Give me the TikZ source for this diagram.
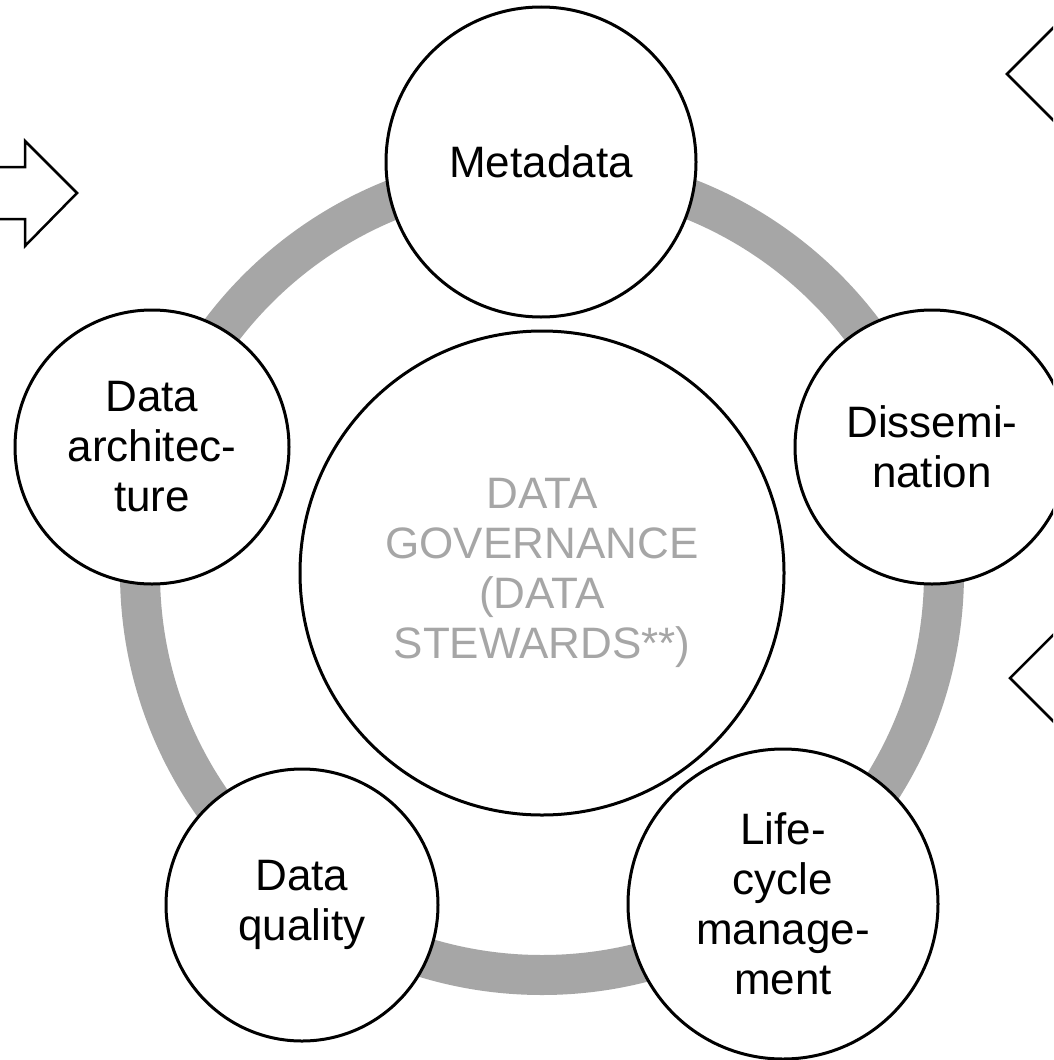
\documentclass[tikz,border=0pt]{standalone}
\usepackage{fontspec}
\setmainfont{Liberation Sans}
\definecolor{ringgray}{HTML}{A6A6A6}
\definecolor{txtgray}{HTML}{A6A6A6}
\begin{document}
\begin{tikzpicture}[x=1pt,y=-1pt,
  bub/.style={circle,draw=black,line width=3pt,fill=white,inner sep=0pt,align=center,
    font=\fontsize{44}{50}\selectfont},
  arr/.style={draw=black,line width=2.5pt,line join=miter}]
\useasboundingbox (0,0) rectangle (1053,1060);
\clip (0,0) rectangle (1053,1060);
\fill[white] (0,0) rectangle (1053,1060);
\coordinate (c) at (542,573);
\draw[ringgray,line width=40pt] (c) circle[radius=402pt];
\node[bub,minimum size=484pt,text=txtgray] (gov) at (c) {DATA\\GOVERNANCE\\(DATA\\STEWARDS**)};
\node[bub,minimum size=310pt] (meta) at (541,162) {Metadata};
\node[bub,minimum size=274pt] (diss) at (932,447) {Dissemi-\\nation};
\node[bub,minimum size=310pt] (life) at (783,904) {Life-\\cycle\\manage-\\ment};
\node[bub,minimum size=272pt] (qual) at (302,905) {Data\\quality};
\node[bub,minimum size=274pt] (arch) at (152,447) {Data\\architec-\\ture};
\draw[arr] (-10,167) -- (25,167) -- (25,141) -- (77,193) -- (25,246) -- (25,219) -- (-10,219);
\draw[arr] (1063,18) -- (1007,74) -- (1063,130);
\draw[arr] (1063,625) -- (1010,678) -- (1063,731);
\end{tikzpicture}
\end{document}
